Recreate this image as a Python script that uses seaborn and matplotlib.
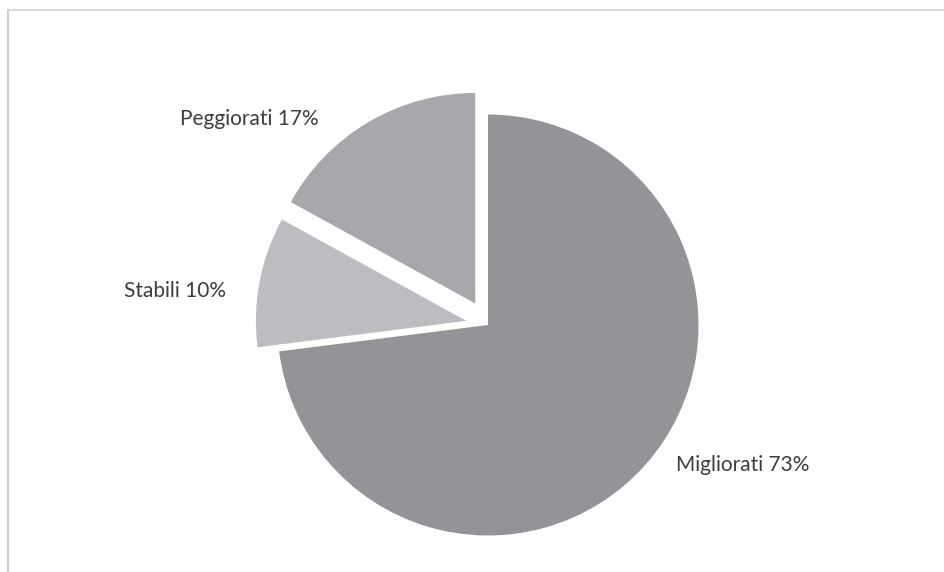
import matplotlib
matplotlib.use("Agg")
import matplotlib.pyplot as plt
from matplotlib.lines import Line2D
import seaborn as sns

sns.set_theme(style="white")
plt.rcParams['font.family'] = ['Lato', 'DejaVu Sans']

categories = ["Migliorati", "Stabili", "Peggiorati"]
values = [73, 10, 17]
label_texts = ["Migliorati 73%", "Stabili 10%", "Peggiorati 17%"]
colors = ["#939498", "#bcbdc0", "#a7a8ab"]

W, H = 944, 572
R = 210.5
# explode offsets in data units (pixels here)
explode = [0.0, 22.0, 25.0]

fig = plt.figure(figsize=(W / 100, H / 100), dpi=100)
ax = fig.add_axes([0, 0, 1, 1])

ax.pie(values, colors=colors, explode=explode, startangle=90, counterclock=False,
       center=(488, H - 325), radius=R, frame=True,
       wedgeprops=dict(linewidth=0))
ax.axis("off")
ax.set_xlim(0, W)
ax.set_ylim(0, H)
ax.set_aspect("equal")

label_pos = [(676, 465), (124, 291), (180, 119)]
for txt, (x, y) in zip(label_texts, label_pos):
    ax.text(x, H - y, txt, ha="left", va="center", fontsize=15,
            color="#3d3d3d")

# outer frame (top and left edges visible)
fig.add_artist(Line2D([7.5 / W, 1], [1 - 9.5 / H, 1 - 9.5 / H], color="#d9d9d9", lw=1.5,
                      transform=fig.transFigure))
fig.add_artist(Line2D([7.5 / W, 7.5 / W], [0, 1 - 9.5 / H], color="#cfcfcf", lw=1.5,
                      transform=fig.transFigure))

fig.savefig("out.png", dpi=100)
